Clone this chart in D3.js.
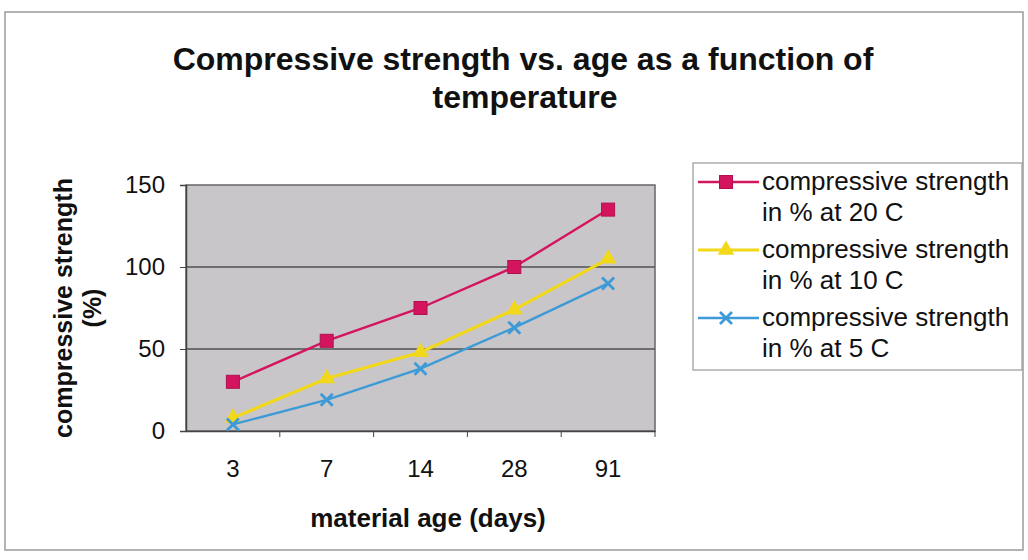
<!DOCTYPE html>
<html><head><meta charset="utf-8">
<script src="https://cdn.jsdelivr.net/npm/d3@7"></script>
<style>body{margin:0;background:#fff}svg{display:block}text{font-family:"Liberation Sans",Arial,sans-serif;fill:#111}</style>
</head><body><svg id="c" width="1028" height="560"></svg>
<script>
const categories = ["3","7","14","28","91"];
const s20 = [30,55,75,100,135];
const s10 = [8,32,48,74,105];
const s5 = [4,19,38,63,90];
const yTicks = [0,50,100,150];
const seriesNames = ["compressive strength in % at 20 C","compressive strength in % at 10 C","compressive strength in % at 5 C"];
const series = [
  {name:seriesNames[0], values:s20, color:"#d4145f", marker:"square"},
  {name:seriesNames[1], values:s10, color:"#f2d81a", marker:"triangle"},
  {name:seriesNames[2], values:s5, color:"#3c9bd6", marker:"x"}
];
const svg = d3.select("#c");
svg.append("rect").attr("x",5).attr("y",12).attr("width",1018).attr("height",538)
  .attr("fill","#fff").attr("stroke","#9a9a9a").attr("stroke-width",1.5);
const L=186,R=655,T=185,B=431;
const x = d3.scaleBand().domain(categories).range([L,R]);
const y = d3.scaleLinear().domain([0,150]).range([B,T]);
svg.append("rect").attr("x",L).attr("y",T).attr("width",R-L).attr("height",B-T)
  .attr("fill","#c9c6c9").attr("stroke","#666").attr("stroke-width",1.5);
svg.append("g").selectAll("line").data(yTicks.filter(d=>d>0&&d<150)).join("line")
  .attr("x1",L).attr("x2",R).attr("y1",d=>y(d)).attr("y2",d=>y(d))
  .attr("stroke","#505050").attr("stroke-width",1.3);
const ya = svg.append("g").attr("transform",`translate(${L},0)`)
  .call(d3.axisLeft(y).tickValues(yTicks).tickSize(6).tickPadding(15));
ya.select(".domain").attr("stroke","#444").attr("stroke-width",1.5);
ya.selectAll(".tick line").attr("stroke","#444");
ya.selectAll(".tick text").attr("font-size",24).attr("fill","#222").style("font-family","Liberation Sans, Arial");
const xa = svg.append("g").attr("transform",`translate(0,${B})`)
  .call(d3.axisBottom(x).tickSize(0).tickPadding(29));
xa.select(".domain").attr("stroke","#444").attr("stroke-width",1.5);
xa.selectAll(".tick text").attr("font-size",24).attr("fill","#222").style("font-family","Liberation Sans, Arial");
svg.append("g").selectAll("line").data(categories.slice(1)).join("line")
  .attr("x1",d=>x(d)).attr("x2",d=>x(d)).attr("y1",B).attr("y2",B+6).attr("stroke","#444");
svg.append("line").attr("x1",R).attr("x2",R).attr("y1",B).attr("y2",B+6).attr("stroke","#444");

function drawMarker(g, type, color, cx, cy){
  if(type==="square") g.append("rect").attr("x",cx-6.5).attr("y",cy-6.5).attr("width",13).attr("height",13).attr("fill",color).attr("stroke","#b0104f");
  else if(type==="triangle") g.append("path").attr("d",d3.symbol(d3.symbolTriangle,120)()).attr("transform",`translate(${cx},${cy})`).attr("fill",color);
  else { g.append("path").attr("d",`M${cx-6},${cy-6}L${cx+6},${cy+6}M${cx-6},${cy+6}L${cx+6},${cy-6}`).attr("stroke",color).attr("stroke-width",2.8); }
}
const line = d3.line().x((d,i)=>x(categories[i])+x.bandwidth()/2).y(d=>y(d));
series.forEach(s=>{
  const g = svg.append("g");
  g.append("path").attr("d",line(s.values)).attr("fill","none").attr("stroke",s.color).attr("stroke-width",s.marker==="triangle"?3.2:2.4);
  s.values.forEach((v,i)=>drawMarker(g,s.marker,s.color,x(categories[i])+x.bandwidth()/2,y(v)));
});
const title = svg.append("text").attr("text-anchor","middle").attr("font-weight","bold").attr("font-size",32);
title.append("tspan").attr("x",523).attr("y",70).text("Compressive strength vs. age as a function of");
title.append("tspan").attr("x",525).attr("y",108).text("temperature");
svg.append("text").attr("transform","translate(72,308) rotate(-90)").attr("text-anchor","middle").attr("font-weight","bold").attr("font-size",25).text("compressive strength");
svg.append("text").attr("transform","translate(101,308) rotate(-90)").attr("text-anchor","middle").attr("font-weight","bold").attr("font-size",25).text("(%)");
svg.append("text").attr("x",428).attr("y",527).attr("text-anchor","middle").attr("font-weight","bold").attr("font-size",26).text("material age (days)");
svg.append("rect").attr("x",693).attr("y",163).attr("width",329).attr("height",207).attr("fill","#fff").attr("stroke","#999").attr("stroke-width",1.2);
series.forEach((s,i)=>{
  const g = svg.append("g");
  const cy = 182 + i*68;
  g.append("line").attr("x1",698).attr("x2",759).attr("y1",cy).attr("y2",cy).attr("stroke",s.color).attr("stroke-width",s.marker==="triangle"?3.2:2.4);
  drawMarker(g,s.marker,s.color,726,cy);
  const words = s.name.split(" ");
  const t = g.append("text").attr("font-size",26).attr("fill","#222");
  t.append("tspan").attr("x",762).attr("y",cy+8).text(words.slice(0,2).join(" "));
  t.append("tspan").attr("x",762).attr("y",cy+39).text(words.slice(2).join(" "));
});
</script></body></html>
